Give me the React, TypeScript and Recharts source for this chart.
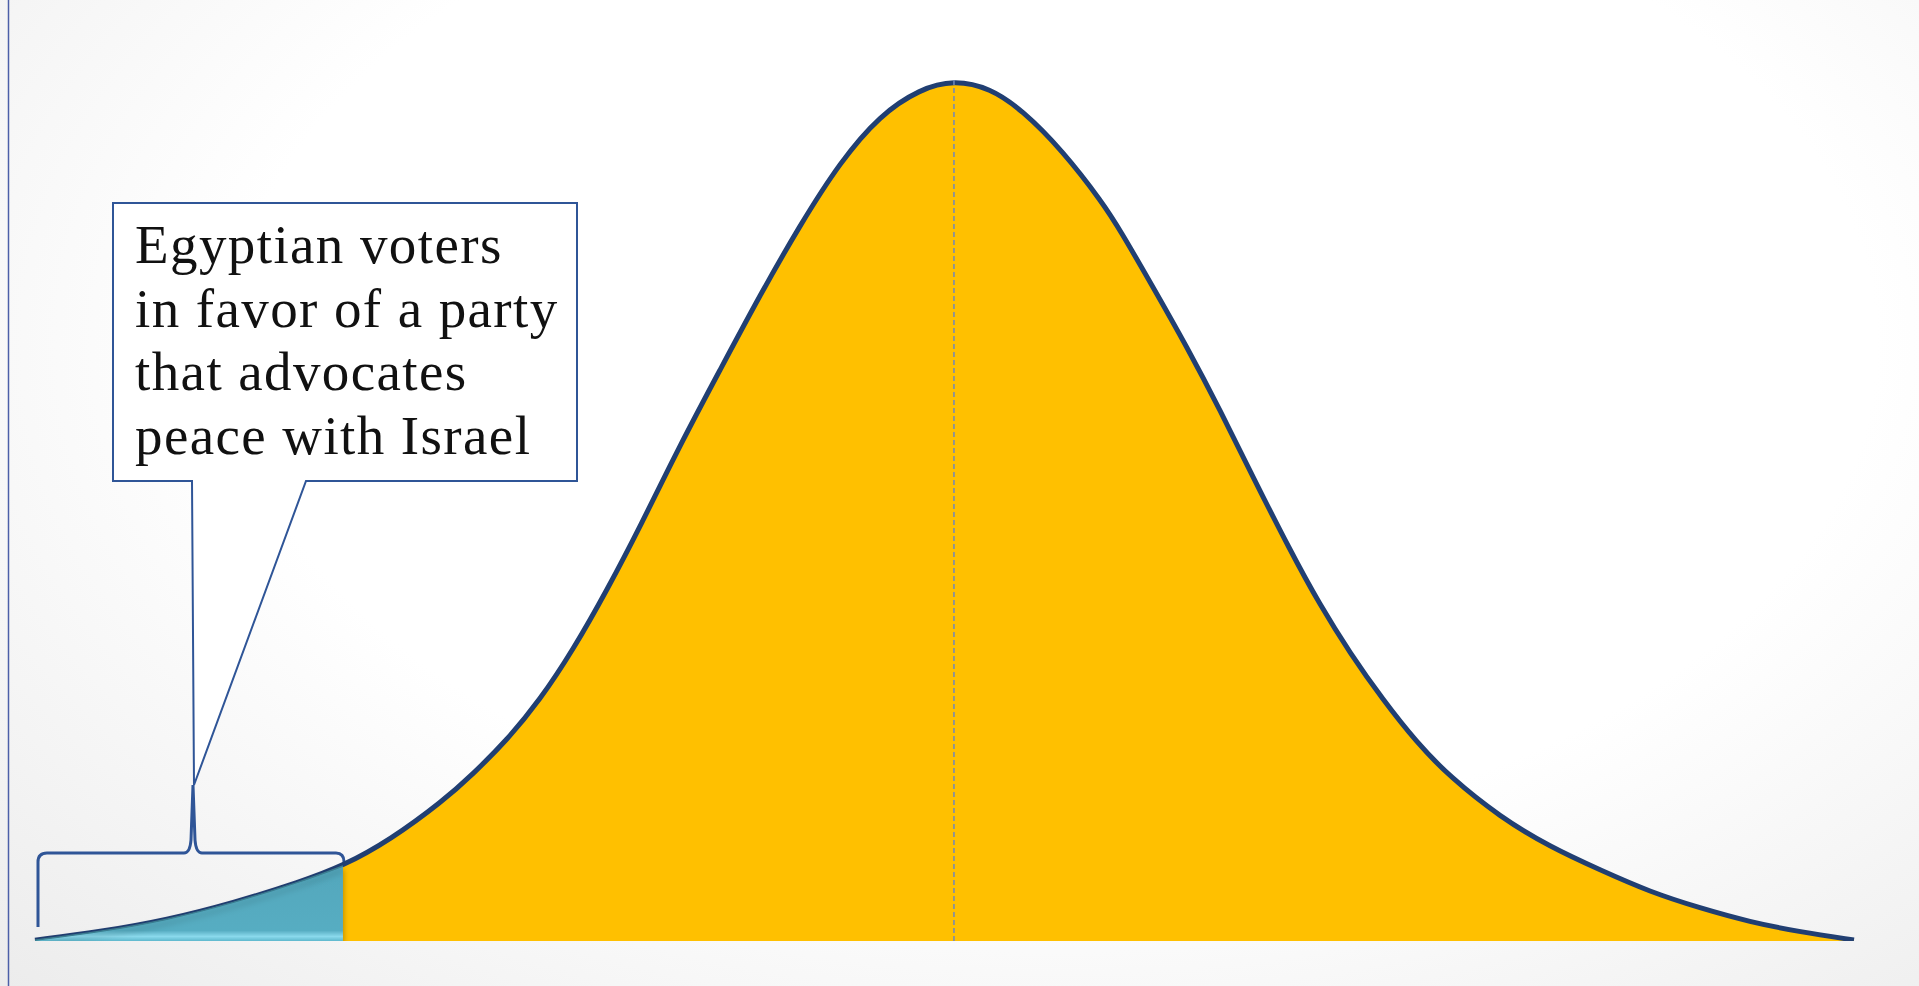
import React from 'react'
import { ComposedChart, Area, XAxis, YAxis, ReferenceLine, Customized } from 'recharts'

// horizontal position along the opinion scale (0 = far left, 100 = far right)
const positions = [
  0, 3.57, 7.26, 10.89, 14.57, 16.93, 19.52, 22.43, 24.08, 25.95, 27.76,
  29.58, 31.45, 33.26, 35.46, 37.66, 39.86, 42.06, 44.26, 46.45, 48.65,
  50.52, 52.5, 54.26, 56.46, 58.71, 59.65, 61.46, 63.33, 65.15, 66.96,
  68.99, 70.64, 72.29, 74.11, 75.98, 77.79, 80.54, 83.29, 86.04, 88.79,
  91.53, 94.28, 97.03, 100,
]

// relative share of voters at each position (peak = 100)
const voterShare = [
  0.1, 1.05, 2.44, 4.41, 6.85, 8.71, 11.73, 16.26, 19.4, 23.34, 27.99,
  33.8, 40.77, 48.08, 57.61, 66.32, 75.03, 83.16, 90.48, 95.93, 98.95,
  100, 99.07, 96.52, 91.87, 85.71, 82.58, 75.96, 68.99, 61.67, 53.89,
  45.41, 39.02, 33.45, 27.99, 23.0, 19.05, 14.4, 10.92, 8.25, 5.69,
  3.83, 2.21, 1.05, 0.12,
]

const tailEnd = 16.93
const peakPosition = 50.52

const calloutLines = [
  'Egyptian voters',
  'in favor of a party',
  'that advocates',
  'peace with Israel',
]

const data = positions.map((x, i) => ({
  x,
  share: voterShare[i],
  tail: x <= tailEnd ? voterShare[i] : null,
}))

const W = 1919
const H = 986
const margin = { top: 80, right: 65, bottom: 45, left: 35 }

const Callout = () => (
  <g>
    <line x1={8.5} y1={0} x2={8.5} y2={H} stroke="#4c5fa8" strokeWidth={1.5} />
    {/* brace over the tail */}
    <path
      d="M38 927 L38 862 Q38 853 47 853 L184 853 Q190 853 191 840 L193 785 L195 840 Q196 853 202 853 L336 853 Q344 853 344 862 L344 927"
      fill="none"
      stroke="#2f5597"
      strokeWidth={3}
    />
    <path
      d="M113 203 H577 V481 H306 L194 785 L192 481 H113 Z"
      fill="#ffffff"
      stroke="#2f5597"
      strokeWidth={2}
    />
    {calloutLines.map((t, i) => (
      <text
        key={t}
        x={135}
        y={263 + i * 63.5}
        fontFamily="'Liberation Serif', serif"
        fontSize={55}
        letterSpacing={1.4}
        fill="#111"
      >
        {t}
      </text>
    ))}
  </g>
)

export default function App() {
  return (
    <div
      style={{
        position: 'absolute',
        left: 0,
        top: 0,
        width: W,
        height: H,
        background: 'radial-gradient(ellipse at 55% 35%, #ffffff 55%, #ececec 100%)',
      }}
    >
      <ComposedChart width={W} height={H} data={data} margin={margin}>
        <defs>
          <linearGradient id="tealFill" x1="0" y1="0" x2="0" y2="1">
            <stop offset="0" stopColor="#52a7bc" />
            <stop offset="0.86" stopColor="#57adc2" />
            <stop offset="0.94" stopColor="#8ad9ec" />
            <stop offset="1" stopColor="#5fb8cd" />
          </linearGradient>
          <filter id="tealShadow" x="-5%" y="-20%" width="110%" height="160%">
            <feDropShadow dx="0" dy="4" stdDeviation="3" floodColor="#000" floodOpacity="0.35" />
          </filter>
        </defs>
        <XAxis dataKey="x" type="number" domain={[0, 100]} hide />
        <YAxis type="number" domain={[0, 100]} allowDataOverflow hide />
        <Area
          type="basis"
          dataKey="share"
          fill="#ffc000"
          fillOpacity={1}
          stroke="#213f72"
          strokeWidth={5}
          isAnimationActive={false}
        />
        <Area
          type="basis"
          dataKey="tail"
          fill="url(#tealFill)"
          fillOpacity={1}
          stroke="#3a7d90"
          strokeWidth={1.5}
          filter="url(#tealShadow)"
          connectNulls={false}
          isAnimationActive={false}
        />
        <ReferenceLine x={peakPosition} stroke="#7088bb" strokeWidth={1.5} strokeDasharray="5 3" />
        <Customized component={<Callout />} />
      </ComposedChart>
    </div>
  )
}
